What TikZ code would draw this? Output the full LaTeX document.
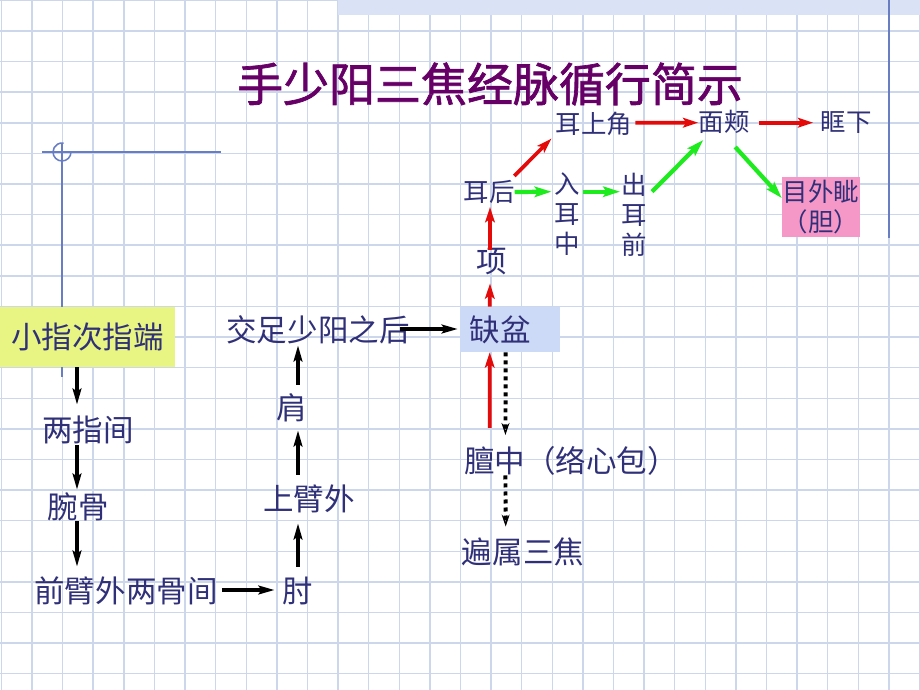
\documentclass[tikz,border=0pt]{standalone}
\usepackage{fontspec}
\newfontfamily\cjk{Noto Sans CJK SC}
\newfontfamily\cjktitle{Noto Sans CJK SC}[FakeBold=1.5]
\usetikzlibrary{calc,arrows.meta}

\definecolor{gridblue}{RGB}{205,215,235}
\definecolor{bandblue}{RGB}{218,226,246}
\definecolor{decoblue}{RGB}{105,125,195}
\definecolor{titlepurple}{RGB}{102,0,102}
\definecolor{txtblue}{RGB}{48,48,120}
\definecolor{boxyellow}{RGB}{232,245,130}
\definecolor{boxblue}{RGB}{204,218,248}
\definecolor{boxpink}{RGB}{245,152,200}
\definecolor{arrred}{RGB}{228,10,10}
\definecolor{arrgreen}{RGB}{30,235,30}

\tikzset{
    gridline/.style={draw=gridblue, line width=1pt},
    decoline/.style={draw=decoblue, line width=1.1pt},
    bigtext/.style={text=txtblue, inner sep=0pt, text height=0.67cm, text depth=0.09cm,
        font=\cjk\fontsize{21.7}{26}\selectfont},
    smalltext/.style={text=txtblue, inner sep=0pt, text height=0.56cm, text depth=0.077cm,
        font=\cjk\fontsize{18.1}{21.3}\selectfont},
    vertext/.style={text=txtblue, inner sep=0pt, align=center,
        font=\cjk\fontsize{18.1}{21.3}\selectfont},
    blackarr/.style={draw=black, line width=2.8pt, -{Stealth[length=0.4cm, width=0.22cm, inset=0.08cm]}},
    redarr/.style={draw=arrred, line width=2.6pt, -{Stealth[length=0.38cm, width=0.24cm, inset=0.08cm]}},
    greenarr/.style={draw=arrgreen, line width=3pt, -{Stealth[length=0.42cm, width=0.26cm, inset=0.08cm]}},
    dotarr/.style={draw=black, line width=2.8pt, dash pattern=on 0.1cm off 0.1cm,
        -{Stealth[open, line width=1pt, length=0.3cm, width=0.2cm]}},
}

\begin{document}
\begin{tikzpicture}[x=0.025cm, y=-0.025cm]
    \useasboundingbox (0,0) rectangle (920,690);
    % background sheet
    \foreach \i in {0,...,30} \draw[gridline] ({1.4+30.6*\i},0) -- ({1.4+30.6*\i},690);
    \foreach \j in {0,...,22} \draw[gridline] (0,{0.4+30.6*\j}) -- (920,{0.4+30.6*\j});
    \fill[bandblue] (338,0) rectangle (920,15);
    \draw[decoline] (889,0) -- (889,238);
    \draw[decoline] (42,152) -- (221,152);
    \draw[decoline] (62,143) -- (62,377);
    \draw[decoline] (71,152) arc[start angle=0, end angle=-280, radius=0.225cm];

    \node[text=titlepurple, inner sep=0pt, font=\cjktitle\fontsize{32.7}{36}\selectfont] at (490,84) (title) {手少阳三焦经脉循行简示};

    \node[bigtext, fill=boxyellow, minimum width=4.375cm, minimum height=1.5cm] at (87.5,337) (xiaozhi) {小指次指端};
    \node[bigtext] at (88,430) (liangzhi) {两指间};
    \node[bigtext] at (78,507) (wangu) {腕骨};
    \node[bigtext] at (126,591) (qianbi) {前臂外两骨间};
    \node[bigtext] at (298,591) (zhou) {肘};
    \node[bigtext] at (309,499) (shangbi) {上臂外};
    \node[bigtext] at (292,408) (jian) {肩};
    \node[bigtext] at (318,330) (jiaozu) {交足少阳之后};
    \node[bigtext, fill=boxblue, inner xsep=0.25cm, text width=2cm, align=left, minimum width=2.5cm, minimum height=1.125cm] at (510,329.5) (quepen) {缺盆};
    \node[bigtext] at (571,461) (danzhong) {膻中（络心包）};
    \node[bigtext] at (523,552) (bianshu) {遍属三焦};
    \node[bigtext] at (492,261) (xiang) {项};
    \node[smalltext] at (489,192) (erhou) {耳后};
    \node[vertext] at (567,214) (ruer) {入\\耳\\中};
    \node[vertext] at (634,215) (chuer) {出\\耳\\前};
    \node[smalltext] at (594,124) (ershang) {耳上角};
    \node[smalltext] at (724,122) (mianjia) {面颊};
    \node[smalltext] at (846,122) (kuangxia) {眶下};
    \node[vertext, fill=boxpink, minimum width=1.95cm, minimum height=1.5cm] at (821,207) (muwai) {目外眦\\（胆）};

    % arm
    \draw[blackarr] ($(xiaozhi.south)+(-10.5,0)$) -- ($(liangzhi.north)+(-11,-10)$);
    \draw[blackarr] ($(liangzhi.south)+(-11,0)$) -- ($(wangu.north)+(-1,-2)$);
    \draw[blackarr] ($(wangu.south)+(-1,-1)$) -- ($(qianbi.north)+(-49,-9)$);
    \draw[blackarr] ($(qianbi.east)+(4,-1)$) -- ($(zhou.west)+(-8,-1)$);
    \draw[blackarr] ($(zhou.north)+(0,-9)$) -- ($(shangbi.south)+(-11,9)$);
    \draw[blackarr] ($(shangbi.north)+(-11,-9)$) -- ($(jian.south)+(6,7)$);
    \draw[blackarr] ($(jian.north)+(6,-8)$) -- ($(jiaozu.south)+(-20,0)$);
    \draw[blackarr] ($(jiaozu.east)+(-9.5,-1)$) -- ($(quepen.west)+(-2,-0.5)$);
    % inner branch
    \draw[dotarr] ($(quepen.south west)+(46,0)$) -- ($(danzhong.north west)+(41.5,-10.5)$);
    \draw[dotarr] ($(danzhong.south west)+(41.5,-1)$) -- ($(bianshu.north west)+(44,-10)$);
    % neck and head
    \draw[redarr] ($(danzhong.north west)+(25.75,-17.75)$) -- ($(quepen.south west)+(30,0)$);
    \draw[redarr] ($(quepen.north west)+(30,0)$) -- ($(xiang.south)+(-2,7)$);
    \draw[redarr] ($(xiang.north)+(-2,4)$) -- ($(erhou.south)+(1,2)$);
    \draw[redarr] ($(erhou.north east)+(-0.5,-3)$) -- ($(ershang.south west)+(-4,1.5)$);
    \draw[redarr] ($(ershang.east)+(3,-1.3)$) -- ($(mianjia.west)+(0,0.7)$);
    \draw[redarr] ($(mianjia.east)+(9,0.7)$) -- ($(kuangxia.west)+(-7,0.7)$);
    \draw[greenarr] (erhou.east) -- ($(ruer.west)+(-2.5,-22.3)$);
    \draw[greenarr] ($(ruer.east)+(3,-22.3)$) -- ($(chuer.west)+(-1,-23.3)$);
    \draw[greenarr] ($(chuer.east)+(5,-23.3)$) -- ($(mianjia.south west)+(5,5)$);
    \draw[greenarr] ($(mianjia.south east)+(-14.5,12)$) -- ($(muwai.north west)+(0,21.3)$);
\end{tikzpicture}
\end{document}
